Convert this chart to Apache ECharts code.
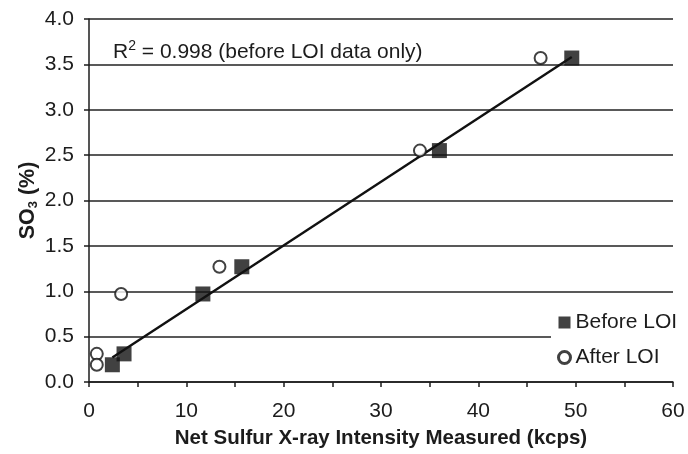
<!DOCTYPE html>
<html><head><meta charset="utf-8">
<script src="https://cdn.jsdelivr.net/npm/echarts@6/dist/echarts.min.js"></script>
<style>html,body{margin:0;padding:0;background:#fff}#c{width:688px;height:454px}</style>
</head><body><div id="c"></div>
<script>
var beforeX = [2.4, 3.6, 11.7, 15.7, 36.0, 49.6];
var beforeY = [0.19, 0.31, 0.97, 1.27, 2.55, 3.57];
var afterX = [0.8, 0.8, 3.3, 13.4, 34.0, 46.4];
var afterY = [0.31, 0.19, 0.97, 1.27, 2.55, 3.57];
var trendX = [2.4, 49.6];
var trendY = [0.27, 3.58];
var seriesNames = ['Before LOI', 'After LOI'];
var annotation = ' = 0.998 (before LOI data only)';
var xTitle = 'Net Sulfur X-ray Intensity Measured (kcps)';

function pairs(xs, ys){ return xs.map(function(x,i){ return [x, ys[i]]; }); }
var FONT = 'Liberation Sans, Arial, sans-serif';
var INK = '#1c1c1c';
var chart = echarts.init(document.getElementById('c'), null, {renderer:'canvas'});
chart.setOption({
  animation:false,
  backgroundColor:'#fff',
  textStyle:{fontFamily:FONT},
  grid:{left:89, right:15, top:19, bottom:69, containLabel:false},
  xAxis:{
    type:'value', min:0, max:60, interval:10,
    name:xTitle, nameLocation:'middle', nameGap:46,
    nameTextStyle:{fontFamily:FONT, fontWeight:'bold', fontSize:20.5, color:INK},
    axisLine:{show:true, lineStyle:{color:INK, width:1.5}},
    axisTick:{show:true, length:5, lineStyle:{color:INK, width:1.5}},
    minorTick:{show:true, splitNumber:2, length:5, lineStyle:{color:INK, width:1.5}},
    axisLabel:{fontFamily:FONT, fontSize:21, color:INK, margin:19},
    splitLine:{show:false}
  },
  yAxis:{
    type:'value', min:0, max:4, interval:0.5,
    name:'{b|SO}{s|3}{b| (%)}', nameLocation:'middle', nameGap:48, nameRotate:90,
    nameMoveOverlap:false,
    nameTextStyle:{rich:{
      b:{fontFamily:FONT, fontWeight:'bold', fontSize:21.5, color:INK, lineHeight:26},
      s:{fontFamily:FONT, fontWeight:'bold', fontSize:13, color:INK, lineHeight:26, padding:[10,0,0,0]}
    }},
    axisLine:{show:true, lineStyle:{color:INK, width:1.5}},
    axisTick:{show:true, length:5, lineStyle:{color:INK, width:1.5}},
    axisLabel:{fontFamily:FONT, fontSize:21, color:INK, margin:15,
      formatter:function(v){ return v.toFixed(1); }},
    splitLine:{show:true, lineStyle:{color:'#222', width:1.5}}
  },
  legend:{
    orient:'vertical', left:551, top:306,
    backgroundColor:'#fff', padding:[6,10,6,6], itemGap:14,
    itemWidth:12, itemHeight:12,
    textStyle:{fontFamily:FONT, fontSize:21, color:INK},
    data:[
      {name:seriesNames[0], icon:'rect'},
      {name:seriesNames[1], icon:'circle', itemStyle:{color:'#fff', borderColor:'#111', borderWidth:3}}
    ]
  },
  graphic:[{
    type:'text', left:113, top:39, z:10,
    style:{
      text:'{r|R}{p|2}{r|' + annotation + '}',
      rich:{
        r:{fontFamily:FONT, fontSize:21, fill:INK, lineHeight:26},
        p:{fontFamily:FONT, fontSize:14, fill:INK, lineHeight:26, padding:[0,0,12,0]}
      }
    }
  }],
  series:[
    {type:'line', name:'trend', data:pairs(trendX, trendY), showSymbol:false, symbol:'none',
     lineStyle:{color:'#111', width:2.4}, z:1, silent:true},
    {type:'scatter', name:seriesNames[0], data:pairs(beforeX, beforeY), symbol:'rect', symbolSize:15,
     itemStyle:{color:'#111'}, z:3},
    {type:'scatter', name:seriesNames[1], data:pairs(afterX, afterY), symbol:'circle', symbolSize:12,
     itemStyle:{color:'#fff', borderColor:'#111', borderWidth:2}, z:3}
  ]
});
</script></body></html>
